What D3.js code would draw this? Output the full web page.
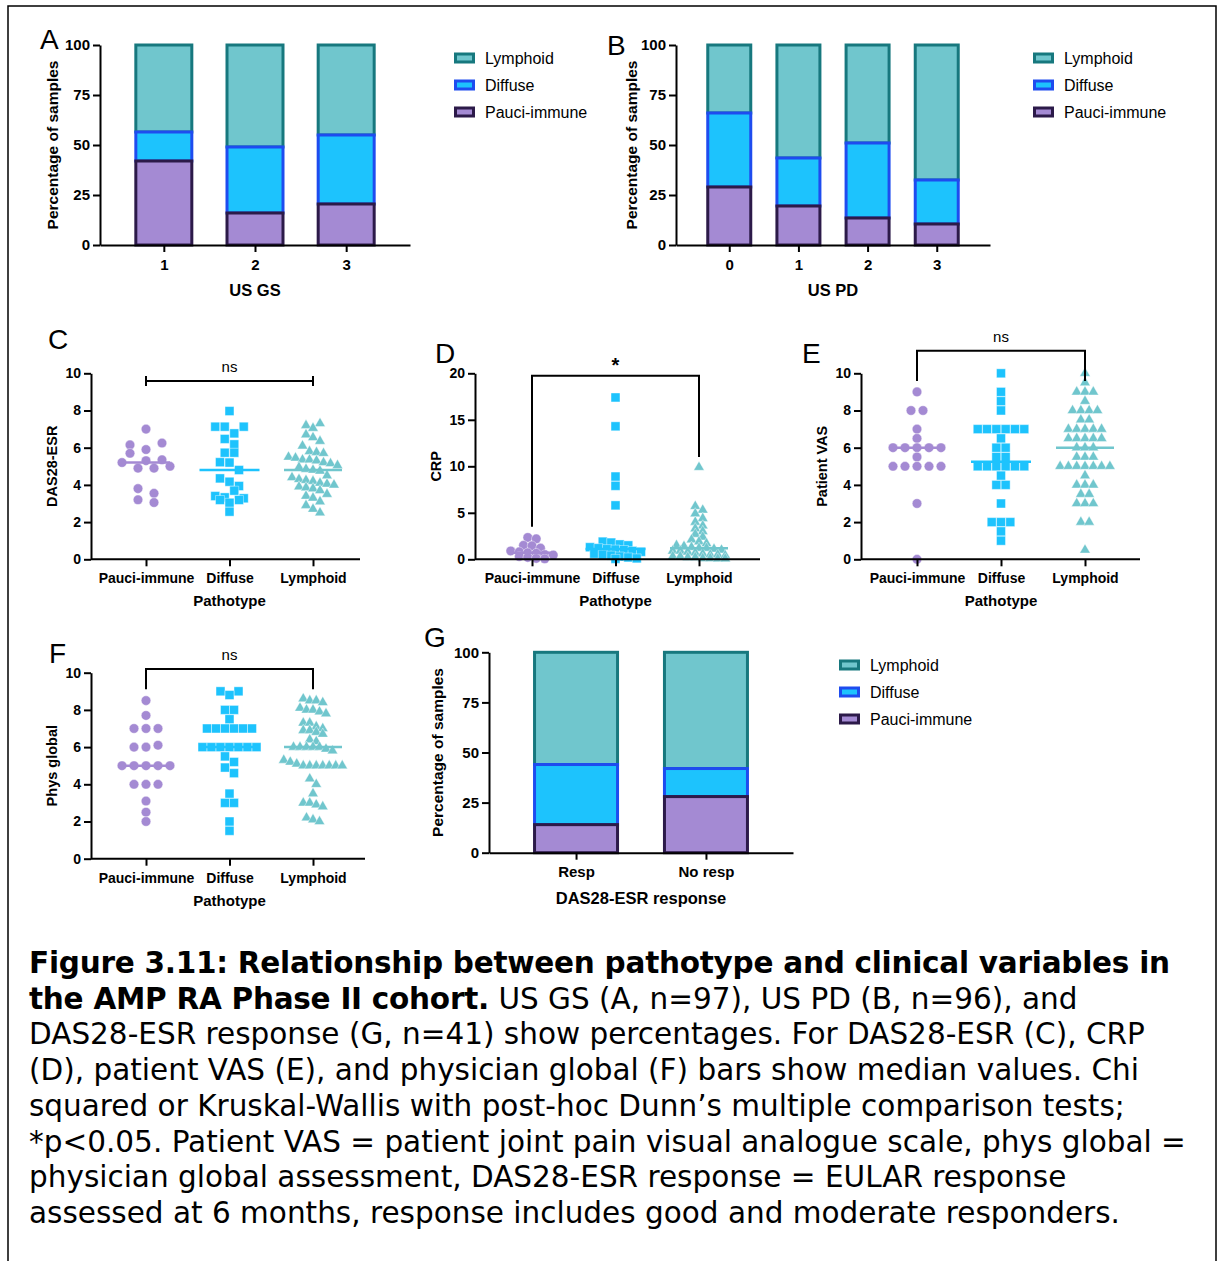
<!DOCTYPE html>
<html>
<head>
<meta charset="utf-8">
<script src="https://cdn.jsdelivr.net/npm/d3@7"></script>
<style>
  body { margin: 0; background: #fff; }
  text { font-family: "Liberation Sans", Arial, sans-serif; fill: #000; }
  text.caption { font-family: "DejaVu Sans", Verdana, sans-serif; white-space: pre; }
</style>
</head>
<body>
<svg id="fig" width="1218" height="1261"></svg>
<script>
// ---- data ----
var groups = ["Pauci-immune", "Diffuse", "Lymphoid"];

// stacked percentages (pauci, diffuse, lymphoid)
var pctTicks = [0, 25, 50, 75, 100];
var usgsCats = ["1", "2", "3"];
var usgsPauci = [42, 16, 20.5];
var usgsDiffuse = [14.5, 33, 34.5];
var usgsLymphoid = [43.5, 51, 45];

var uspdCats = ["0", "1", "2", "3"];
var uspdPauci = [29, 19.5, 13.5, 10.5];
var uspdDiffuse = [37, 24, 37.5, 22];
var uspdLymphoid = [34, 56.5, 49, 67.5];

var respCats = ["Resp", "No resp"];
var respPauci = [14, 28];
var respDiffuse = [30, 14];
var respLymphoid = [56, 58];

// DAS28-ESR (C)
var das28Ticks = [0, 2, 4, 6, 8, 10];
var das28Pauci = [7.0, 6.15, 5.9, 6.25, 5.7, 5.3, 5.35, 5.2, 4.9, 4.9, 5.0, 3.8, 3.55, 3.2, 3.05];
var das28Diffuse = [7.97, 7.13, 7.13, 6.77, 7.13, 6.47, 6.18, 5.73, 5.73, 5.22, 5.2, 4.8, 4.35, 4.17, 3.94,
  3.4, 3.19, 3.33, 3.04, 3.69, 3.28, 3.19, 2.56];
var das28Lymphoid = [7.2, 7.05, 7.3, 6.7, 6.55, 6.35, 6.1, 5.8, 5.75, 5.7, 5.5, 5.45, 5.35, 5.35, 5.3, 5.2,
  5.15, 5.05, 4.95, 4.85, 4.8, 4.75, 4.5, 4.4, 4.3, 4.25, 4.2, 4.1, 4.05, 4.0, 3.9, 3.85, 3.8, 3.7, 3.5,
  3.4, 3.3, 3.1, 2.9, 2.7, 2.5];

// CRP (D)
var crpTicks = [0, 5, 10, 15, 20];
var crpPauci = [2.35, 2.2, 1.5, 1.45, 1.2, 0.9, 0.8, 0.7, 0.65, 0.5, 0.45, 0.3, 0.2, 0.1, 0.05];
var crpDiffuse = [17.4, 14.3, 8.9, 7.9, 5.8, 1.9, 1.8, 1.6, 1.5, 1.3, 1.2, 1.1, 1.05, 1.0, 0.9, 0.8, 0.6,
  0.5, 0.4, 0.3, 0.2, 0.1, 0.05];
var crpLymphoid = [9.9, 5.7, 5.3, 4.9, 4.4, 4.0, 3.6, 3.3, 3.0, 2.7, 2.4, 2.1, 1.9, 1.7, 1.5, 1.4, 1.3,
  1.2, 1.2, 1.1, 1.0, 0.9, 0.9, 0.8, 0.7, 0.6, 0.5, 0.5, 0.4, 0.3, 0.3, 0.2, 0.2, 0.1, 0.1, 0.05, 0.05];

// Patient VAS (E)
var vasTicks = [0, 2, 4, 6, 8, 10];
var vasPauci = [9, 8, 8, 7, 6.5, 6, 6, 6, 6, 6, 5.5, 5, 5, 5, 5, 5, 3, 0];
var vasDiffuse = [10, 9, 8.5, 8, 7, 7, 7, 7, 7, 7, 6.5, 6, 6, 5.5, 5.5, 5, 5, 5, 5, 5, 5, 4.5, 4, 4, 3,
  2, 2, 2, 1.5, 1];
var vasLymphoid = [10, 9.5, 9, 9, 9, 8.5, 8, 8, 8, 8, 7.5, 7.5, 7, 7, 7, 7, 7, 6.5, 6.5, 6.5, 6.5, 6.5,
  6, 6, 6, 5.5, 5.5, 5.5, 5, 5, 5, 5, 5, 5, 5, 4.5, 4, 4, 4, 3.5, 3.5, 3, 3, 3, 2, 2, 0.5];

// Physician global (F)
var physTicks = [0, 2, 4, 6, 8, 10];
var physPauci = [8.5, 7.7, 7, 7, 7, 6, 6, 6.1, 5, 5, 5, 5, 5, 4, 4, 4, 3.1, 2.5, 2];
var physDiffuse = [9, 8.8, 9, 8, 8, 7.5, 7, 7, 7, 7, 7, 7, 6, 6, 6, 6, 6, 6, 6, 5.5, 4.9, 5.2, 4.6,
  3.5, 3, 3, 2, 1.5];
var physLymphoid = [8.6, 8.5, 8.5, 8.4, 8.1, 8.0, 8.0, 7.9, 7.8, 7.3, 7.3, 7.1, 7.0, 6.9, 6.9, 6.8, 6.7,
  6.4, 6.3, 6.0, 6.0, 6.0, 6.0, 6.0, 5.9, 5.8, 5.3, 5.2, 5.1, 5.0, 5.0, 5.0, 5.0, 5.0, 5.0, 5.0, 4.3,
  4.0, 3.5, 3.0, 3.0, 2.9, 2.8, 2.2, 2.1, 2.0];

var captionLines = [
  [["Figure 3.11: Relationship between pathotype and clinical variables in", true]],
  [["the AMP RA Phase II cohort.", true], [" US GS (A, n=97), US PD (B, n=96), and", false]],
  [["DAS28-ESR response (G, n=41) show percentages. For DAS28-ESR (C), CRP", false]],
  [["(D), patient VAS (E), and physician global (F) bars show median values. Chi", false]],
  [["squared or Kruskal-Wallis with post-hoc Dunn\u2019s multiple comparison tests;", false]],
  [["*p<0.05. Patient VAS = patient joint pain visual analogue scale, phys global =", false]],
  [["physician global assessment, DAS28-ESR response = EULAR response", false]],
  [["assessed at 6 months, response includes good and moderate responders.", false]]
];

// ---- styling ----
var keys = ["pauci", "diffuse", "lymphoid"];
var fills = ["#a48ad3", "#1dc3fd", "#70c6cd"];
var strokes = ["#2c1a49", "#1e4cef", "#17787e"];
var symbols = [d3.symbolCircle, d3.symbolSquare, d3.symbolTriangle];
var symbolSizes = [72, 80, 48];
var medianHalf = [24, 30, 29];

var svg = d3.select("#fig");

// frame around the figure
svg.append("path")
  .attr("d", "M8,1261V6H1216V1261")
  .attr("fill", "none")
  .attr("stroke", "#000")
  .attr("stroke-width", 1.5);

function styleAxis(ax, size) {
  ax.attr("font-family", null).attr("font-size", null);
  ax.select(".domain").attr("stroke-width", 2);
  ax.selectAll(".tick line").attr("stroke-width", 2);
  ax.selectAll(".tick text").attr("font-size", size).attr("font-weight", "bold").attr("fill", "#000");
}

function panelLetter(t, x, y) {
  svg.append("text").attr("x", x).attr("y", y).attr("font-size", 28).text(t);
}

function yLabel(g, t, x, yMid, size) {
  g.append("text")
    .attr("transform", "translate(" + x + "," + yMid + ") rotate(-90)")
    .attr("text-anchor", "middle")
    .attr("dy", "0.35em")
    .attr("font-size", size)
    .attr("font-weight", "bold")
    .text(t);
}

// stacked percentage bars
function stackedPanel(p) {
  var g = svg.append("g");
  var x = d3.scalePoint().domain(p.cats).range([p.left, p.right]).padding(p.pad);
  var y = d3.scaleLinear().domain([0, 100]).range([p.bottom, p.top]);

  var rows = p.cats.map(function(c, i) {
    var r = {cat: c};
    keys.forEach(function(k, j) { r[k] = p.series[j][i]; });
    return r;
  });
  var layers = d3.stack().keys(keys)(rows);

  // lymphoid first so each lower segment's border sits on top
  layers.slice().reverse().forEach(function(layer) {
    var j = layer.index;
    g.selectAll(null).data(layer).enter().append("rect")
      .attr("x", d => x(d.data.cat) - p.barWidth / 2 + 1.5)
      .attr("y", d => y(d[1]))
      .attr("width", p.barWidth - 3)
      .attr("height", d => y(d[0]) - y(d[1]))
      .attr("fill", fills[j])
      .attr("stroke", strokes[j])
      .attr("stroke-width", 3);
  });

  var ay = g.append("g").attr("transform", "translate(" + p.left + ",0)")
    .call(d3.axisLeft(y).tickValues(pctTicks).tickSize(7).tickSizeOuter(0).tickPadding(3));
  styleAxis(ay, 15);
  var ax = g.append("g").attr("transform", "translate(0," + p.bottom + ")")
    .call(d3.axisBottom(x).tickSize(7).tickSizeOuter(0).tickPadding(7));
  styleAxis(ax, 15);

  g.append("text")
    .attr("x", x(p.cats[0]) / 2 + x(p.cats[p.cats.length - 1]) / 2)
    .attr("y", p.bottom + 51)
    .attr("text-anchor", "middle")
    .attr("font-size", 16.5).attr("font-weight", "bold")
    .text(p.xTitle);
  yLabel(g, "Percentage of samples", p.yLabelX, (p.top + p.bottom) / 2, 15.5);

  // legend: lymphoid, diffuse, pauci-immune
  [2, 1, 0].forEach(function(j, r) {
    var ly = p.legendY + r * 27;
    g.append("rect")
      .attr("x", p.legendX + 1.5).attr("y", ly - 4)
      .attr("width", 18).attr("height", 8)
      .attr("fill", fills[j]).attr("stroke", strokes[j]).attr("stroke-width", 3);
    g.append("text")
      .attr("x", p.legendX + 31).attr("y", ly + 6)
      .attr("font-size", 16)
      .text(groups[j]);
  });
  panelLetter(p.letter, p.letterX, p.letterY);
}

// group points into rows of similar value and spread each row sideways
function swarm(values, bin, step) {
  var pts = values.map(function(v, i) { return {v: v, i: i}; })
    .sort(function(a, b) { return b.v - a.v; });
  var rows = [], cur = null;
  pts.forEach(function(pt) {
    if (!cur || cur[0].v - pt.v > bin + 1e-9) { cur = [pt]; rows.push(cur); }
    else cur.push(pt);
  });
  rows.forEach(function(r) {
    r.sort(function(a, b) { return a.i - b.i; });
    r.forEach(function(pt, k) { pt.dx = (k - (r.length - 1) / 2) * step; });
  });
  return pts;
}

function scatterPanel(p) {
  var g = svg.append("g");
  var x = d3.scalePoint().domain(groups).range(p.centers);
  var y = d3.scaleLinear().domain([0, p.max]).range([p.bottom, p.top]);

  p.data.forEach(function(vals, j) {
    var cx = x(groups[j]);
    var pts = swarm(vals, p.bin, p.steps[j]);
    g.selectAll(null).data(pts).enter().append("path")
      .attr("d", d3.symbol().type(symbols[j]).size(symbolSizes[j]))
      .attr("transform", d => "translate(" + (cx + d.dx) + "," + y(d.v) + ")")
      .attr("fill", fills[j])
      .attr("stroke", "#fff")
      .attr("stroke-width", 0.4);
    var m = d3.median(vals);
    g.append("line")
      .attr("x1", cx - medianHalf[j]).attr("x2", cx + medianHalf[j])
      .attr("y1", y(m)).attr("y2", y(m))
      .attr("stroke", fills[j]).attr("stroke-width", 2.5);
  });

  var ay = g.append("g").attr("transform", "translate(" + p.left + ",0)")
    .call(d3.axisLeft(y).tickValues(p.ticks).tickSize(7).tickSizeOuter(0).tickPadding(3));
  styleAxis(ay, 14);
  var ax = g.append("g").attr("transform", "translate(0," + p.bottom + ")")
    .call(d3.axisBottom(x).tickSize(7).tickSizeOuter(0).tickPadding(7));
  ax.select(".domain").attr("d", "M" + p.left + ",0H" + p.right);
  styleAxis(ax, 14);

  g.append("text")
    .attr("x", x(groups[1])).attr("y", p.bottom + 47)
    .attr("text-anchor", "middle")
    .attr("font-size", 15).attr("font-weight", "bold")
    .text("Pathotype");
  yLabel(g, p.yTitle, p.yLabelX, (p.top + p.bottom) / 2, 14.5);

  // comparison bracket
  var b = p.bracket;
  var x1 = x(groups[0]), x2 = x(groups[2]), yl = y(b.level);
  var d = b.caps
    ? "M" + x1 + "," + (yl - 5) + "V" + (yl + 5) + "M" + x1 + "," + yl + "H" + x2 +
      "M" + x2 + "," + (yl - 5) + "V" + (yl + 5)
    : "M" + x1 + "," + y(b.leftEnd) + "V" + yl + "H" + x2 + "V" + y(b.rightEnd);
  g.append("path").attr("d", d).attr("fill", "none").attr("stroke", "#000").attr("stroke-width", 2);
  g.append("text")
    .attr("x", x(groups[1])).attr("y", yl - b.gap)
    .attr("text-anchor", "middle")
    .attr("font-size", b.label == "*" ? 20 : 15)
    .attr("font-weight", b.label == "*" ? "bold" : "normal")
    .text(b.label);

  panelLetter(p.letter, p.letterX, p.letterY);
}

stackedPanel({letter: "A", letterX: 40, letterY: 49, cats: usgsCats,
  series: [usgsPauci, usgsDiffuse, usgsLymphoid], left: 100, right: 410, pad: 0.7,
  top: 45, bottom: 245, barWidth: 59, xTitle: "US GS", yLabelX: 53, legendX: 454, legendY: 58});

stackedPanel({letter: "B", letterX: 607, letterY: 55, cats: uspdCats,
  series: [uspdPauci, uspdDiffuse, uspdLymphoid], left: 676, right: 990, pad: 0.77,
  top: 45, bottom: 245, barWidth: 46, xTitle: "US PD", yLabelX: 632, legendX: 1033, legendY: 58});

stackedPanel({letter: "G", letterX: 424, letterY: 647, cats: respCats,
  series: [respPauci, respDiffuse, respLymphoid], left: 489, right: 793, pad: 0.67,
  top: 652.3, bottom: 852.7, barWidth: 86, xTitle: "DAS28-ESR response", yLabelX: 438,
  legendX: 839, legendY: 665});

scatterPanel({letter: "C", letterX: 48, letterY: 349, left: 91, right: 360, top: 373.3, bottom: 559.3,
  max: 10, ticks: das28Ticks, centers: [146, 313], data: [das28Pauci, das28Diffuse, das28Lymphoid],
  steps: [16, 9.5, 7], bin: 0.45, yTitle: "DAS28-ESR", yLabelX: 52,
  bracket: {caps: true, level: 9.59, label: "ns", gap: 9}});

scatterPanel({letter: "D", letterX: 435, letterY: 363, left: 475, right: 760, top: 373.3, bottom: 559.3,
  max: 20, ticks: crpTicks, centers: [532, 699], data: [crpPauci, crpDiffuse, crpLymphoid],
  steps: [8.5, 8.5, 7.5], bin: 0.5, yTitle: "CRP", yLabelX: 436,
  bracket: {caps: false, level: 19.74, leftEnd: 3.5, rightEnd: 11, label: "*", gap: 3.5}});

scatterPanel({letter: "E", letterX: 802, letterY: 363, left: 861, right: 1140, top: 373.3, bottom: 559.3,
  max: 10, ticks: vasTicks, centers: [917, 1085], data: [vasPauci, vasDiffuse, vasLymphoid],
  steps: [12, 9.3, 8.3], bin: 0.3, yTitle: "Patient VAS", yLabelX: 822,
  bracket: {caps: false, level: 11.21, leftEnd: 9.59, rightEnd: 9.59, label: "ns", gap: 9}});

scatterPanel({letter: "F", letterX: 49, letterY: 663, left: 91, right: 365, top: 672.7, bottom: 858.7,
  max: 10, ticks: physTicks, centers: [146, 313], data: [physPauci, physDiffuse, physLymphoid],
  steps: [12, 9, 6.5], bin: 0.3, yTitle: "Phys global", yLabelX: 52,
  bracket: {caps: false, level: 10.2, leftEnd: 9.11, rightEnd: 9.11, label: "ns", gap: 9}});

// caption
var cap = svg.append("g");
captionLines.forEach(function(line, i) {
  var t = cap.append("text")
    .attr("class", "caption")
    .attr("x", 29).attr("y", 973 + i * 35.7)
    .attr("font-size", 29.5);
  line.forEach(function(seg) {
    t.append("tspan")
      .attr("font-weight", seg[1] ? "bold" : "normal")
      .attr("letter-spacing", seg[1] ? -0.25 : 0)
      .text(seg[0]);
  });
});
</script>
</body>
</html>
